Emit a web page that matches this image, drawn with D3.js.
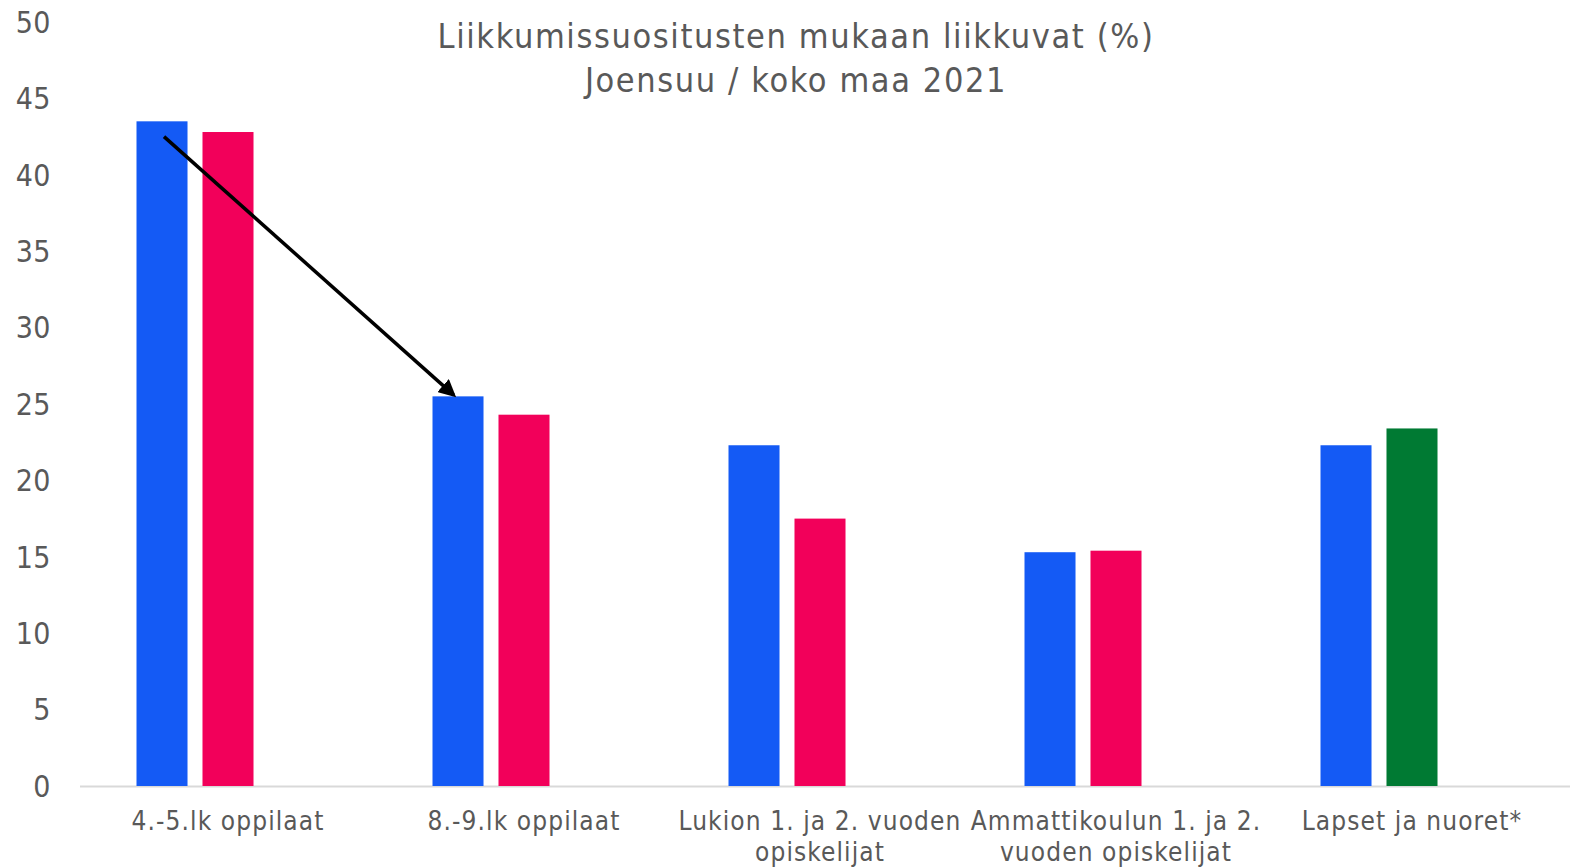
<!DOCTYPE html>
<html lang="fi">
<head>
<meta charset="utf-8">
<title>Liikkumissuositusten mukaan liikkuvat</title>
<script src="https://cdn.jsdelivr.net/npm/d3@7"></script>
<style>
  body { margin: 0; background: #fff; }
  svg { display: block; }
  text { font-family: "DejaVu Sans", sans-serif; font-stretch: condensed; fill: #595959; }
</style>
</head>
<body>
<div id="chart"></div>
<script>
// data
var categories = ["4.-5.lk oppilaat", "8.-9.lk oppilaat", "Lukion 1. ja 2. vuoden opiskelijat",
                  "Ammattikoulun 1. ja 2. vuoden opiskelijat", "Lapset ja nuoret*"];
var joensuu = [43.5, 25.5, 22.3, 15.3, 22.3];
var kokoMaa = [42.8, 24.3, 17.5, 15.4, 23.4];
var yTicks = [0, 5, 10, 15, 20, 25, 30, 35, 40, 45, 50];
var titleLines = ["Liikkumissuositusten mukaan liikkuvat (%)", "Joensuu / koko maa 2021"];
// arrow: from category 0 (first series) at 42.5 down to category 1 top
var arrowFrom = {cat: 0, value: 42.5};
var arrowTo = {cat: 1, value: 25.6};

var width = 1570, height = 867;
var margin = {left: 80, right: 10, top: 22, bottom: 81};

var svg = d3.select("#chart").append("svg")
    .attr("width", width)
    .attr("height", height);

var x = d3.scaleBand()
    .domain(categories)
    .range([margin.left, width - margin.right]);

// three slots per group, the third one stays empty
var slot = d3.scaleBand()
    .domain([0, 1, 2])
    .range([x.bandwidth() / 2 - 91.5, x.bandwidth() / 2 + 91.5])
    .paddingInner(0.227);

var y = d3.scaleLinear()
    .domain([0, 50])
    .range([height - margin.bottom, margin.top]);

var blue = "#145af5", pink = "#f2005a", green = "#007a33";

// y labels
svg.append("g")
  .selectAll("text")
  .data(yTicks)
  .enter().append("text")
    .attr("x", 51)
    .attr("y", function (d) { return y(d); })
    .attr("dy", "0.36em")
    .attr("text-anchor", "end")
    .style("font-size", "30px")
    .style("letter-spacing", "0.5px")
    .text(function (d) { return d; });

// baseline
svg.append("line")
    .attr("x1", margin.left)
    .attr("x2", width)
    .attr("y1", y(0) + 0.5)
    .attr("y2", y(0) + 0.5)
    .attr("stroke", "#d9d9d9")
    .attr("stroke-width", 2);

var rows = categories.map(function (c, i) {
  return [
    {cat: c, s: 0, v: joensuu[i], color: blue},
    {cat: c, s: 1, v: kokoMaa[i], color: i == categories.length - 1 ? green : pink}
  ];
});

svg.append("g")
  .selectAll("rect")
  .data(d3.merge(rows))
  .enter().append("rect")
    .attr("x", function (d) { return x(d.cat) + slot(d.s); })
    .attr("width", slot.bandwidth())
    .attr("y", function (d) { return y(d.v); })
    .attr("height", function (d) { return y(0) - y(d.v); })
    .attr("fill", function (d) { return d.color; });

// category labels, wrapped to band width
var lab = svg.append("g")
  .selectAll("text")
  .data(categories)
  .enter().append("text")
    .attr("x", function (d) { return x(d) + x.bandwidth() / 2; })
    .attr("y", y(0) + 44)
    .attr("text-anchor", "middle")
    .style("font-size", "26px")
    .style("letter-spacing", "1.1px");

lab.each(function (d) {
  var t = d3.select(this), words = d.split(" "), line = [], lines = [];
  var probe = t.append("tspan");
  words.forEach(function (w) {
    line.push(w);
    probe.text(line.join(" "));
    if (probe.node().getComputedTextLength() > x.bandwidth() - 4 && line.length > 1) {
      line.pop();
      lines.push(line.join(" "));
      line = [w];
    }
  });
  lines.push(line.join(" "));
  probe.remove();
  lines.forEach(function (l, k) {
    t.append("tspan")
      .attr("x", x(d) + x.bandwidth() / 2)
      .attr("dy", k == 0 ? 0 : 31)
      .text(l);
  });
});

// title
svg.append("text")
    .attr("x", 796)
    .attr("y", 48)
    .attr("text-anchor", "middle")
    .style("font-size", "34px")
    .style("letter-spacing", "1.6px")
  .selectAll("tspan")
  .data(titleLines)
  .enter().append("tspan")
    .attr("x", 796)
    .attr("dy", function (d, i) { return i == 0 ? 0 : 44; })
    .text(function (d) { return d; });

// arrow
svg.append("defs").append("marker")
    .attr("id", "head")
    .attr("viewBox", "0 0 10 10")
    .attr("refX", 8)
    .attr("refY", 5)
    .attr("markerWidth", 5)
    .attr("markerHeight", 5)
    .attr("orient", "auto")
  .append("path")
    .attr("d", "M0,0L10,5L0,10z")
    .attr("fill", "#000");

svg.append("line")
    .attr("x1", x(categories[arrowFrom.cat]) + slot(0) + slot.bandwidth() / 2 + 2)
    .attr("y1", y(arrowFrom.value))
    .attr("x2", x(categories[arrowTo.cat]) + slot(0) + 21)
    .attr("y2", y(arrowTo.value))
    .attr("stroke", "#000")
    .attr("stroke-width", 3.5)
    .attr("marker-end", "url(#head)");
</script>
</body>
</html>
